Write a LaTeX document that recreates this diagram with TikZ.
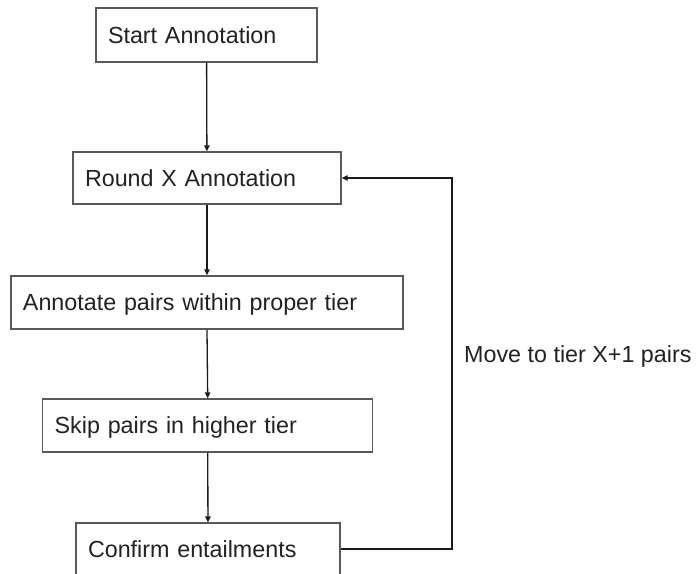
\documentclass[tikz,border=0pt]{standalone}
\usepackage{fontspec}
\setmainfont{Liberation Sans}
\usetikzlibrary{arrows.meta}
\definecolor{boxline}{HTML}{595959}
\definecolor{inkline}{HTML}{1A1A1A}
\definecolor{txt}{HTML}{222222}
\begin{document}
\begin{tikzpicture}[x=1pt,y=-1pt,
  font=\fontsize{23.3}{28}\selectfont,
  stepbox/.style={draw=boxline, line width=1.4pt, fill=white, text=txt,
    inner xsep=12pt, inner ysep=0pt, align=left,
    text height=16.5pt, text depth=0pt},
  flow/.style={draw=inkline, line width=1.3pt,
    -{Triangle[length=6pt,width=5.5pt]}},
  note/.style={text=txt, inner sep=0pt, anchor=base west}]
  \useasboundingbox (0,0) rectangle (696,573);

  % process steps
  \node[stepbox, text width=197pt, minimum height=54pt] (start)   at (206.5,35)   {Start Annotation};
  \node[stepbox, text width=244pt, minimum height=52pt] (round)   at (207,178)    {Round X Annotation};
  \node[stepbox, text width=368pt, minimum height=53pt] (annot)   at (207,302.5)  {Annotate pairs within proper tier};
  \node[stepbox, text width=306pt, minimum height=53pt] (skip)    at (207.7,425.5){Skip pairs in higher tier};
  \node[stepbox, text width=240pt, minimum height=52pt] (confirm) at (208,549)    {Confirm entailments};

  % forward flow
  \draw[flow] (start) -- (round);
  \draw[flow] (round) -- (annot);
  \draw[flow] (annot.south) -- (skip.north);
  \draw[flow] (skip) -- (confirm);

  % loop back to the next round
  \coordinate (loop) at (452,178);
  \draw[flow] (confirm.east) -| (loop) -- (round.east);
  \node[note] (movelbl) at (464,362.7) {Move to tier X+1 pairs};
\end{tikzpicture}
\end{document}
